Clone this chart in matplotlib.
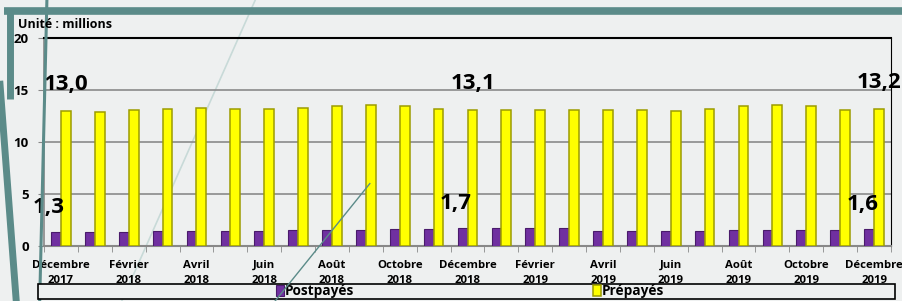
import numpy as np
import matplotlib.pyplot as plt
from matplotlib.lines import Line2D
from matplotlib.patches import Rectangle

plt.rcParams['font.family'] = ['Open Sans', 'DejaVu Sans']

mois = ["Décembre\n2017", "", "Février\n2018", "", "Avril\n2018", "", "Juin\n2018", "",
        "Août\n2018", "", "Octobre\n2018", "", "Décembre\n2018", "", "Février\n2019", "",
        "Avril\n2019", "", "Juin\n2019", "", "Août\n2019", "", "Octobre\n2019", "",
        "Décembre\n2019"]
postpayes = [1.3, 1.3, 1.35, 1.4, 1.4, 1.45, 1.45, 1.5, 1.5, 1.55, 1.6, 1.6, 1.7,
             1.7, 1.75, 1.75, 1.45, 1.45, 1.45, 1.45, 1.5, 1.55, 1.55, 1.55, 1.6]
prepayes = [13.0, 12.9, 13.1, 13.2, 13.3, 13.2, 13.2, 13.3, 13.5, 13.6, 13.5, 13.2, 13.1,
            13.1, 13.1, 13.1, 13.1, 13.1, 13.0, 13.2, 13.5, 13.6, 13.5, 13.1, 13.2]
labelled = [0, 12, 24]

bg = '#eef0f0'
teal = '#5b8b89'

fig = plt.figure(figsize=(9.02, 3.01), dpi=100, facecolor=bg)

# decoration of the slide
fig.add_artist(Line2D([0.004, 1.0], [0.964, 0.964], color=teal, lw=5.5, solid_capstyle='butt'))
fig.add_artist(Line2D([0.011, 0.011], [0.975, 0.67], color=teal, lw=5, solid_capstyle='butt'))
fig.add_artist(Line2D([0.0, 0.018], [0.72, 0.0], color=teal, lw=5))
fig.add_artist(Line2D([0.052, 0.044], [1.0, 0.0], color=teal, lw=2.2))
deco = Line2D([0.283, 0.135], [1.0, 0.0], color='#c8dad8', lw=1.2)
deco.set_zorder(-1)
fig.add_artist(deco)
fig.add_artist(Line2D([0.41, 0.305], [0.39, 0.0], color=teal, lw=1.0, zorder=7))

ax = fig.add_axes([0.0488, 0.1827, 0.9390, 0.6911])
ax.set_facecolor('none')
x = np.arange(len(mois))
w = 0.29
ax.bar(x - 0.145, postpayes, w, color='#7030a0', edgecolor='#4a1b6b', lw=0.8,
       label='Postpayés', zorder=3)
ax.bar(x + 0.145, prepayes, w, color='#ffff00', edgecolor='#9c9c00', lw=1.1,
       label='Prépayés', zorder=3)

for i in labelled:
    ax.text(x[i] + 0.15, prepayes[i] + 2.5, f"{prepayes[i]:.1f}".replace('.', ','),
            ha='center', va='center', fontsize=16, fontweight='bold', zorder=5)
    ax.text(x[i] - 0.35, postpayes[i] + 2.4, f"{postpayes[i]:.1f}".replace('.', ','),
            ha='center', va='center', fontsize=16, fontweight='bold', zorder=5)

ax.set_xlim(-0.5, len(mois) - 0.5)
ax.set_ylim(0, 20)
ax.set_yticks([0, 5, 10, 15, 20])
ax.set_yticklabels(['0', '5', '10', '15', '20'], fontsize=9.5, fontweight='bold')
ax.tick_params(axis='y', length=4, color='#888888', pad=7)
ax.set_xticks(x)
ax.set_xticklabels(mois, fontsize=8.2, fontweight='bold', linespacing=1.5)
ax.set_xticks(np.arange(len(mois) + 1) - 0.5, minor=True)
ax.tick_params(axis='x', which='major', length=0, pad=10)
ax.tick_params(axis='x', which='minor', length=4, color='#888888')
ax.yaxis.grid(True, color='#8a8a8a', lw=1.2, zorder=0)
ax.set_axisbelow(True)
ax.spines['left'].set_color('#888888')
ax.spines['bottom'].set_color('#888888')
ax.spines['left'].set_linewidth(1.2)
ax.spines['bottom'].set_linewidth(1.5)
ax.spines['top'].set_color('black')
ax.spines['right'].set_color('black')
ax.spines['top'].set_linewidth(1.5)

fig.text(0.02, 0.917, "Unité : millions", fontsize=9, fontweight='bold', va='center')

# legend box
fig.add_artist(Rectangle((0.042, 0.005), 0.95, 0.053, transform=fig.transFigure,
                         facecolor=bg, edgecolor='black', lw=1.2, zorder=4))
leg = fig.legend(loc='center left', bbox_to_anchor=(0.298, 0.032), ncol=2, frameon=False,
                 handlelength=0.6, handleheight=0.9, handletextpad=0.1, columnspacing=17.5,
                 prop={'weight': 'bold', 'size': 9.8}, borderpad=0)
leg.set_zorder(6)

fig.savefig('out.png', dpi=100, facecolor=bg)
